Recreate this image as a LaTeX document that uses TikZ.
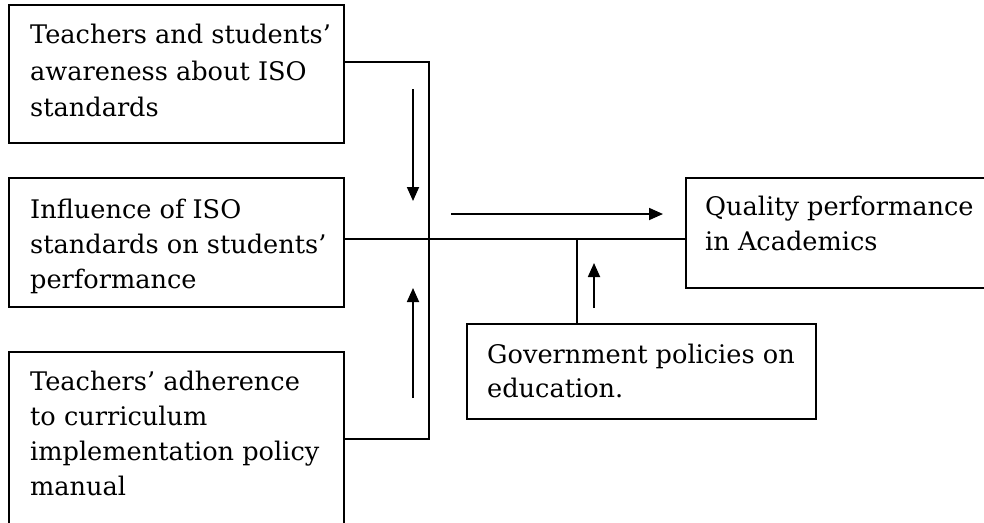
\documentclass[tikz,border=0pt]{standalone}
\usepackage{fontspec}
\setmainfont{DejaVu Serif}
\usetikzlibrary{arrows.meta}
\begin{document}
\begin{tikzpicture}[x=1pt,y=-1pt,
  box/.style={draw,line width=1.8pt,rectangle,inner sep=0pt,outer sep=0pt,anchor=north west},
  txt/.style={anchor=base west,inner sep=0pt,font=\fontsize{25.6}{30}\selectfont},
  conn/.style={line width=1.8pt},
  arr/.style={line width=1.8pt,-{Triangle[length=14pt,width=12pt]}}]
\useasboundingbox (0,0) rectangle (984,522);
\clip (0,0) rectangle (984,522);
% boxes
\node[box,minimum width=335pt,minimum height=138pt] (b1) at (9,5) {};
\node[box,minimum width=335pt,minimum height=129pt] (b2) at (9,178) {};
\node[box,minimum width=335pt,minimum height=200pt] (b4) at (9,352) {};
\node[box,minimum width=320pt,minimum height=110pt] (b3) at (686,178) {};
\node[box,minimum width=349pt,minimum height=95pt] (b5) at (467,324) {};
% texts
\node[txt] (t1a) at (30,43) {Teachers and students’};
\node[txt] (t1b) at (30,80) {awareness about ISO};
\node[txt] (t1c) at (30,116) {standards};
\node[txt] (t2a) at (30,218) {Influence of ISO};
\node[txt] (t2b) at (30,253) {standards on students’};
\node[txt] (t2c) at (30,288) {performance};
\node[txt] (t4a) at (30,390) {Teachers’ adherence};
\node[txt] (t4b) at (30,425) {to curriculum};
\node[txt] (t4c) at (30,460) {implementation policy};
\node[txt] (t4d) at (30,495) {manual};
\node[txt] (t3a) at (705,215) {Quality performance};
\node[txt] (t3b) at (705,250) {in Academics};
\node[txt] (t5a) at (487,363) {Government policies on};
\node[txt] (t5b) at (487,397) {education.};
% connector coordinates
\coordinate (tt) at (429,62);
\coordinate (bb) at (429,439);
\coordinate (hm) at (429,239);
\coordinate (gv) at (577,239);
\draw[conn] (b1.east |- tt) -- (tt) -- (bb) -- (b4.east |- bb);
\draw[conn] (b2.east |- hm) -- (b3.west |- hm);
\draw[conn] (gv) -- (gv |- b5.north);
% arrows
\coordinate (a1s) at (413,89);
\coordinate (a1e) at (413,201);
\coordinate (a2s) at (413,398);
\coordinate (a2e) at (413,288);
\coordinate (a3s) at (451,214);
\coordinate (a3e) at (663,214);
\coordinate (a4s) at (594,308);
\coordinate (a4e) at (594,263);
\draw[arr] (a1s) -- (a1e);
\draw[arr] (a2s) -- (a2e);
\draw[arr] (a3s) -- (a3e);
\draw[arr] (a4s) -- (a4e);
\end{tikzpicture}
\end{document}
